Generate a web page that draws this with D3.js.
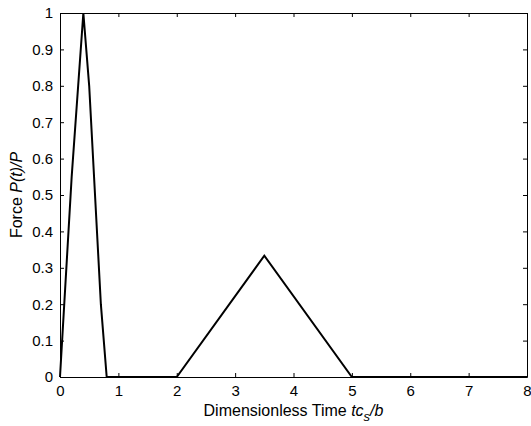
<!DOCTYPE html>
<html>
<head>
<meta charset="utf-8">
<script src="https://cdn.jsdelivr.net/npm/d3@7"></script>
<style>
  body { margin: 0; background: #fff; }
  text { font-family: "Liberation Sans", Arial, sans-serif; }
</style>
</head>
<body>
<div id="chart"></div>
<script>
// force pulse samples (dimensionless time, P(t)/P)
var times  = [0, 0.2, 0.4, 0.5, 0.7, 0.8, 2, 3.5, 5, 8];
var forces = [0, 0.55, 1, 0.8, 0.2, 0, 0, 0.333, 0, 0];
var xTicks = [0, 1, 2, 3, 4, 5, 6, 7, 8];
var yTicks = [0, 0.1, 0.2, 0.3, 0.4, 0.5, 0.6, 0.7, 0.8, 0.9, 1];

var W = 531, H = 426;
var margin = {left: 60, top: 13, right: 4, bottom: 49};
var width = W - margin.left - margin.right;
var height = H - margin.top - margin.bottom;

var svg = d3.select("#chart").append("svg").attr("width", W).attr("height", H);
var chart = svg.append("g").attr("transform", "translate(" + margin.left + "," + margin.top + ")");

var x_scale = d3.scaleLinear().domain([0, 8]).range([0, width]);
var y_scale = d3.scaleLinear().domain([0, 1]).range([height, 0]);

// axes, MATLAB style: inward ticks on all four sides
var tickLen = 4;
chart.append("g")
    .attr("transform", "translate(0," + height + ")")
    .call(d3.axisBottom(x_scale).tickValues(xTicks).tickSizeInner(-tickLen).tickSizeOuter(0).tickPadding(8).tickFormat(d3.format("d")));
chart.append("g")
    .call(d3.axisTop(x_scale).tickValues(xTicks).tickSizeInner(-tickLen).tickSizeOuter(0).tickFormat(""));
chart.append("g")
    .call(d3.axisLeft(y_scale).tickValues(yTicks).tickSizeInner(-tickLen).tickSizeOuter(0).tickPadding(7).tickFormat(function (d) { return d3.format("")(+d.toFixed(1)); }));
chart.append("g")
    .attr("transform", "translate(" + width + ",0)")
    .call(d3.axisRight(y_scale).tickValues(yTicks).tickSizeInner(-tickLen).tickSizeOuter(0).tickFormat(""));

chart.selectAll(".domain").attr("stroke", "#000").attr("stroke-width", 1);
chart.selectAll(".tick line").attr("stroke", "#000");
chart.selectAll(".tick text").attr("fill", "#000")
    .style("font-size", "15px")
    .style("font-family", "'Liberation Sans', Arial, sans-serif");

// data line
var pts = times.map(function (t, i) { return [t, forces[i]]; });
var line = d3.line()
    .x(function (d) { return x_scale(d[0]); })
    .y(function (d) { return y_scale(d[1]); });
chart.append("path")
    .datum(pts)
    .attr("d", line)
    .attr("fill", "none")
    .attr("stroke", "#000")
    .attr("stroke-width", 2)
    .attr("stroke-linejoin", "miter");

// axis labels
var xl = svg.append("text")
    .attr("x", margin.left + width / 2)
    .attr("y", 416)
    .attr("text-anchor", "middle")
    .style("font-size", "16px");
xl.append("tspan").text("Dimensionless Time ");
xl.append("tspan").attr("font-style", "italic").text("tc");
xl.append("tspan").attr("font-style", "italic").style("font-size", "13px").attr("dy", 5).text("s");
xl.append("tspan").attr("font-style", "italic").attr("dy", -5).text("/b");

var yl = svg.append("text")
    .attr("transform", "translate(22," + (margin.top + height / 2) + ")rotate(-90)")
    .attr("text-anchor", "middle")
    .style("font-size", "16px");
yl.append("tspan").text("Force ");
yl.append("tspan").attr("font-style", "italic").text("P(t)/P");
</script>
</body>
</html>
